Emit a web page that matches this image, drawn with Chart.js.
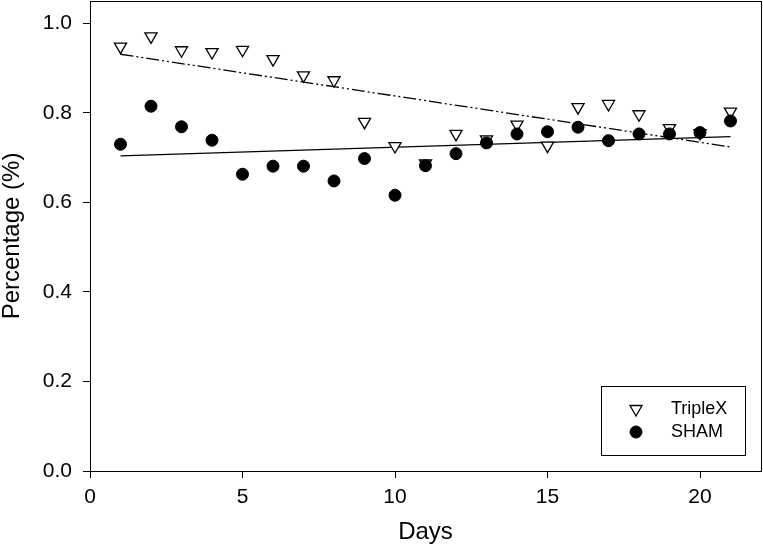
<!DOCTYPE html>
<html>
<head>
<meta charset="utf-8">
<script src="https://cdn.jsdelivr.net/npm/chart.js@4.4.1/dist/chart.umd.min.js"></script>
<style>
  html, body { margin: 0; padding: 0; background: #fff; }
  canvas { display: block; }
</style>
</head>
<body>
<canvas id="chart" width="763" height="545"></canvas>
<script>
// days of the study
const days = [1, 2, 3, 4, 5, 6, 7, 8, 9, 10, 11, 12, 13, 14, 15, 16, 17, 18, 19, 20, 21];
// percentage per day
const triplex = [0.948, 0.971, 0.940, 0.936, 0.941, 0.920, 0.884, 0.873, 0.780, 0.726, 0.687,
  0.753, 0.741, 0.774, 0.727, 0.813, 0.820, 0.797, 0.766, 0.755, 0.803];
const sham = [0.730, 0.815, 0.769, 0.739, 0.663, 0.681, 0.681, 0.648, 0.698, 0.616, 0.682,
  0.709, 0.733, 0.753, 0.758, 0.768, 0.738, 0.753, 0.753, 0.756, 0.782];
// fitted lines, end points only
const trendDays = [1, 21];
const triplexTrend = [0.931, 0.724];
const shamTrend = [0.704, 0.747];
const xTicks = [0, 5, 10, 15, 20];
const yTicks = [0, 0.2, 0.4, 0.6, 0.8, 1.0];

const FONT = "'Liberation Sans', Arial, sans-serif";
const toPoints = (xs, ys) => xs.map((x, i) => ({ x: x, y: ys[i] }));
//no extra room for half tick labels, the plot box fills the canvas
const noPad = (s) => { s.paddingTop = 0; s.paddingBottom = 0; s.paddingLeft = 0; s.paddingRight = 0; };

//draws the box around the plot and the legend inside it
const framePlugin = {
  id: "frame",
  afterDatasetsDraw(chart) {
    const { ctx, chartArea: a } = chart;
    ctx.save();
    ctx.strokeStyle = "#000";
    ctx.lineWidth = 1;
    ctx.strokeRect(Math.round(a.left) + 0.5, Math.round(a.top) + 0.5,
      Math.round(a.right - a.left), Math.round(a.bottom - a.top));

    //legend
    const bx = 601, by = 386, bw = 144, bh = 69;
    ctx.fillStyle = "#fff";
    ctx.fillRect(bx, by, bw, bh);
    ctx.strokeRect(bx + 0.5, by + 0.5, bw, bh);
    const rows = [
      { label: "TripleX", ds: chart.data.datasets[0], y: by + 23 },
      { label: "SHAM", ds: chart.data.datasets[1], y: by + 46 },
    ];
    ctx.font = "18px " + FONT;
    ctx.textBaseline = "middle";
    for (const r of rows) {
      const rad = r.ds.pointRadius, cx = bx + 35, cy = r.y;
      ctx.fillStyle = r.ds.pointBackgroundColor;
      ctx.strokeStyle = "#000";
      ctx.lineWidth = r.ds.pointBorderWidth;
      ctx.beginPath();
      if (r.ds.pointStyle === "circle") {
        ctx.arc(cx, cy, rad, 0, Math.PI * 2);
      } else {
        ctx.moveTo(cx, cy + rad);
        ctx.lineTo(cx - rad * 0.866, cy - rad / 2);
        ctx.lineTo(cx + rad * 0.866, cy - rad / 2);
        ctx.closePath();
      }
      ctx.fill();
      ctx.stroke();
      ctx.fillStyle = "#000";
      ctx.fillText(r.label, bx + 70, r.y);
    }
    ctx.restore();
  },
};

new Chart(document.getElementById("chart"), {
  type: "scatter",
  plugins: [framePlugin],
  data: {
    datasets: [
      {
        label: "TripleX",
        data: toPoints(days, triplex),
        pointStyle: "triangle",
        pointRotation: 180,
        pointRadius: 7,
        pointBorderWidth: 1.3,
        pointBackgroundColor: "#fff",
        pointBorderColor: "#000",
        order: 2,
      },
      {
        label: "SHAM",
        data: toPoints(days, sham),
        pointStyle: "circle",
        pointRadius: 6,
        pointBorderWidth: 1,
        pointBackgroundColor: "#000",
        pointBorderColor: "#000",
        order: 1,
      },
      {
        type: "line",
        label: "TripleX fit",
        data: toPoints(trendDays, triplexTrend),
        borderColor: "#000",
        borderWidth: 1.3,
        borderDash: [13, 3, 2, 3, 2, 3],
        pointRadius: 0,
        fill: false,
        order: 3,
      },
      {
        type: "line",
        label: "SHAM fit",
        data: toPoints(trendDays, shamTrend),
        borderColor: "#000",
        borderWidth: 1.3,
        pointRadius: 0,
        fill: false,
        order: 3,
      },
    ],
  },
  options: {
    responsive: false,
    devicePixelRatio: 1,
    animation: false,
    layout: { autoPadding: false, padding: { top: 1, right: 2, left: 0, bottom: 0 } },
    plugins: {
      legend: { display: false },
      tooltip: { enabled: false },
    },
    scales: {
      x: {
        type: "linear",
        min: 0,
        max: 22,
        afterFit: (s) => { s.height = 74; noPad(s); },
        afterBuildTicks: (s) => { s.ticks = xTicks.map((v) => ({ value: v })); },
        ticks: {
          color: "#000",
          font: { family: FONT, size: 21 },
          padding: 7,
          maxRotation: 0,
          callback: (v) => String(v),
        },
        grid: { drawOnChartArea: false, drawTicks: true, tickLength: 7, tickColor: "#000", tickWidth: 1 },
        border: { display: false },
        title: {
          display: true,
          text: "Days",
          color: "#000",
          font: { family: FONT, size: 24, lineHeight: 1 },
          padding: { top: 0, bottom: 1 },
        },
      },
      y: {
        type: "linear",
        min: 0,
        max: 1.05,
        afterFit: (s) => { s.width = 90; noPad(s); },
        afterBuildTicks: (s) => { s.ticks = yTicks.map((v) => ({ value: v })); },
        ticks: {
          color: "#000",
          font: { family: FONT, size: 21 },
          padding: 11,
          callback: (v) => Number(v).toFixed(1),
        },
        grid: { drawOnChartArea: false, drawTicks: true, tickLength: 7, tickColor: "#000", tickWidth: 1 },
        border: { display: false },
        title: {
          display: true,
          text: "Percentage (%)",
          color: "#000",
          font: { family: FONT, size: 24, lineHeight: 1 },
          padding: { top: 0, bottom: 0 },
        },
      },
    },
  },
});
</script>
</body>
</html>
